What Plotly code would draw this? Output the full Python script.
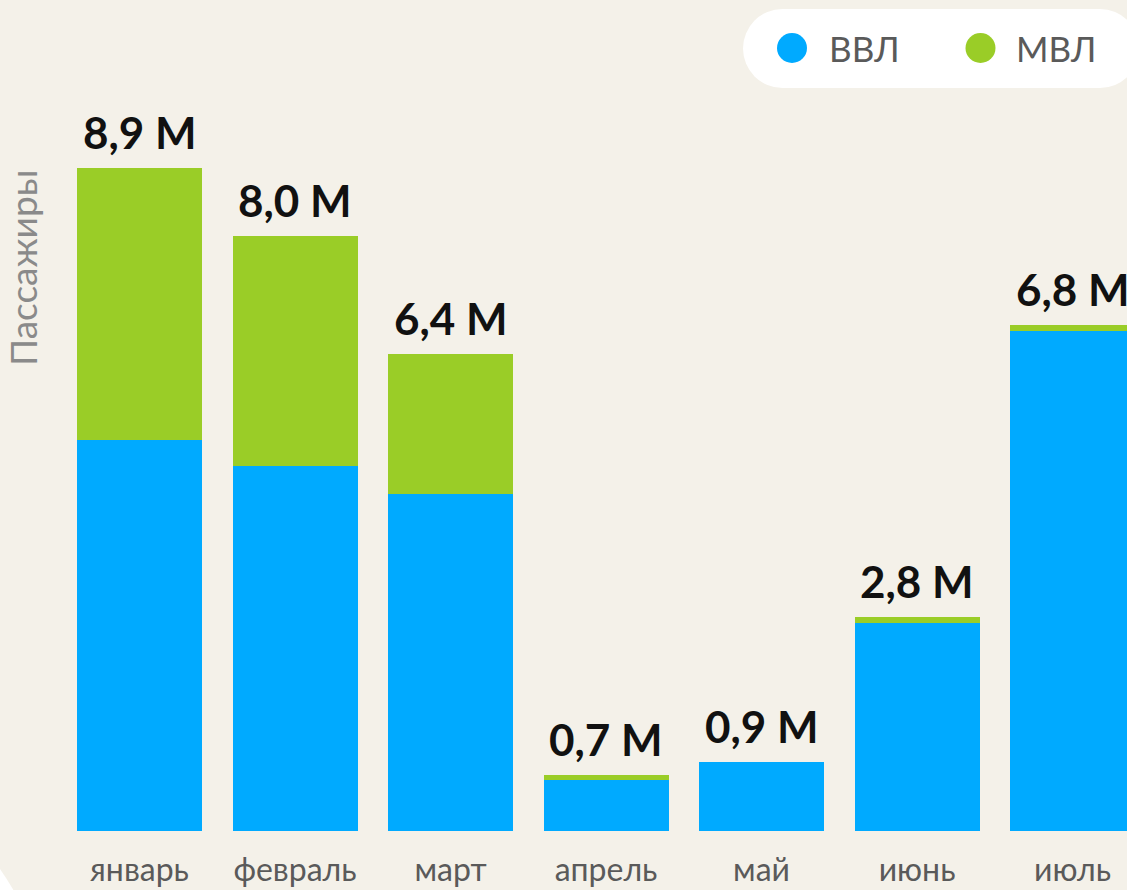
import plotly.graph_objects as go

months = ["январь", "февраль", "март", "апрель", "май", "июнь", "июль"]
vvl = [5.25, 4.90, 4.53, 0.68, 0.93, 2.80, 6.72]
mvl = [3.65, 3.09, 1.87, 0.07, 0.0, 0.07, 0.08]
total_labels = ["8,9 M", "8,0 M", "6,4 M", "0,7 M", "0,9 M", "2,8 M", "6,8 M"]
series_names = ["ВВЛ", "МВЛ"]
axis_title = "Пассажиры"

BLUE = "#00AAFF"
GREEN = "#9ACD27"
BG = "#F4F1E9"

W, H = 1127, 890
L, R, T, B = 62, 0, 0, 59
PW, PH = W - L - R, H - T - B


def px(x):
    return (x - L) / PW


def py(y):
    return (H - B - y) / PH


fig = go.Figure()
fig.add_trace(go.Bar(x=months, y=vvl, name=series_names[0], marker_color=BLUE,
                     marker_line_width=0, showlegend=False))
fig.add_trace(go.Bar(x=months, y=mvl, name=series_names[1], marker_color=GREEN,
                     marker_line_width=0, showlegend=False))

annotations = []
for m, a, b, lab in zip(months, vvl, mvl, total_labels):
    annotations.append(dict(x=m, y=a + b, xref="x", yref="y", text=lab,
                            showarrow=False, yanchor="bottom", yshift=8,
                            font=dict(family="Lato", size=44, color="#111111",
                                      weight="bold")))

annotations.append(dict(x=px(22), y=py(268), xref="paper", yref="paper",
                        text=axis_title, textangle=-90, showarrow=False,
                        xanchor="center", yanchor="middle",
                        font=dict(family="Lato", size=37, color="#8A8A8A")))

# legend texts
annotations.append(dict(x=px(827), y=py(48), xref="paper", yref="paper",
                        text=series_names[0], showarrow=False, xanchor="left",
                        yanchor="middle",
                        font=dict(family="Lato", size=35, color="#5A5A5A")))
annotations.append(dict(x=px(1014), y=py(48), xref="paper", yref="paper",
                        text=series_names[1], showarrow=False, xanchor="left",
                        yanchor="middle",
                        font=dict(family="Lato", size=35, color="#5A5A5A")))

shapes = []
# legend pill
shapes.append(dict(type="rect", xref="paper", yref="paper", x0=px(782.5), x1=px(1100),
                   y0=py(88), y1=py(9), fillcolor="white", line_width=0, layer="below"))
shapes.append(dict(type="circle", xref="paper", yref="paper", x0=px(743), x1=px(822),
                   y0=py(88), y1=py(9), fillcolor="white", line_width=0, layer="below"))
shapes.append(dict(type="circle", xref="paper", yref="paper", x0=px(1060.5), x1=px(1139.5),
                   y0=py(88), y1=py(9), fillcolor="white", line_width=0, layer="below"))
# legend markers
shapes.append(dict(type="circle", xref="paper", yref="paper", x0=px(777), x1=px(807),
                   y0=py(63), y1=py(33), fillcolor=BLUE, line_width=0, layer="below"))
shapes.append(dict(type="circle", xref="paper", yref="paper", x0=px(965.5), x1=px(995.5),
                   y0=py(63), y1=py(33), fillcolor=GREEN, line_width=0, layer="below"))
# bottom-left card corner
shapes.append(dict(type="path", xref="paper", yref="paper",
                   path=f"M {px(0)},{py(869)} Q {px(7)},{py(879)} {px(14)},{py(891)} L {px(0)},{py(891)} Z",
                   fillcolor="white", line_width=0, layer="above"))

fig.update_layout(
    width=W, height=H,
    margin=dict(l=L, r=R, t=T, b=B, pad=0, autoexpand=False),
    barmode="stack",
    bargap=0.196,
    paper_bgcolor=BG,
    plot_bgcolor=BG,
    showlegend=False,
    annotations=annotations,
    shapes=shapes,
    xaxis=dict(range=[-0.4984, 6.350], showgrid=False, zeroline=False, showline=False,
               ticks="", ticklabelstandoff=17,
               tickfont=dict(family="Lato", size=32, color="#5A5A5A")),
    yaxis=dict(range=[0, PH / 74.46], showgrid=False, zeroline=False, showline=False,
               showticklabels=False, ticks=""),
)

fig.write_html(
    "out.html",
    config={"displayModeBar": False},
    post_script="document.body.style.margin='0';document.body.style.overflow='hidden';",
)
